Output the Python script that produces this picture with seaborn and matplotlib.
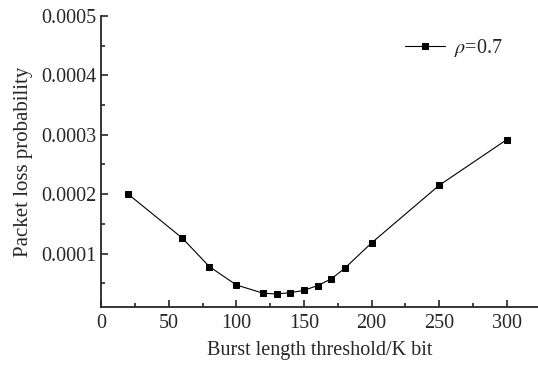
import numpy as np
import pandas as pd
import matplotlib
matplotlib.use('Agg')
import matplotlib.pyplot as plt
import seaborn as sns
from matplotlib.ticker import MultipleLocator, FormatStrFormatter

# burst length threshold (K bit) and packet loss probability, rho = 0.7
threshold = [20, 60, 80, 100, 120, 130, 140, 150, 160, 170, 180, 200, 250, 300]
loss_prob = [0.000200, 0.000126, 0.000078, 0.000047, 0.000033, 0.000032,
             0.000034, 0.000038, 0.000046, 0.000057, 0.000075, 0.000118,
             0.000215, 0.000292]

df = pd.DataFrame({'threshold': threshold, 'loss': loss_prob})

sns.set_style('ticks')
plt.rcParams['font.family'] = ['Liberation Serif', 'DejaVu Serif']
plt.rcParams['mathtext.fontset'] = 'stix'

fig = plt.figure(figsize=(5.38, 3.65), dpi=100)
ax = fig.add_axes([0.188, 0.159, 0.812, 0.797])

sns.lineplot(data=df, x='threshold', y='loss', marker='s', markersize=5,
             color='black', linewidth=0.8, markeredgecolor='black',
             label=r'$\rho$=0.7', ax=ax)

ax.set_xlim(0, 323)
ax.set_ylim(0.00001, 0.0005)
ax.xaxis.set_major_locator(MultipleLocator(50))
ax.xaxis.set_minor_locator(MultipleLocator(25))
ax.yaxis.set_major_locator(MultipleLocator(0.0001))
ax.yaxis.set_minor_locator(MultipleLocator(0.00005))
ax.yaxis.set_major_formatter(FormatStrFormatter('%.4f'))
ax.tick_params(which='both', direction='in', labelsize=14.5, width=1.2)
ax.tick_params(which='major', length=5)
ax.tick_params(which='minor', length=3)
ax.tick_params(axis='x', pad=5)
for s in ['top', 'right']:
    ax.spines[s].set_visible(False)
for s in ['left', 'bottom']:
    ax.spines[s].set_linewidth(1.3)

ax.set_xlabel('Burst length threshold/K bit', fontsize=14.5, labelpad=6)
ax.set_ylabel('Packet loss probability', fontsize=15, labelpad=6)

ax.legend(loc='upper right', bbox_to_anchor=(0.96, 0.99), frameon=False,
          fontsize=14.5, handlelength=2.0, handletextpad=0.4, markerscale=0.9)

fig.savefig('out.png', dpi=100)
